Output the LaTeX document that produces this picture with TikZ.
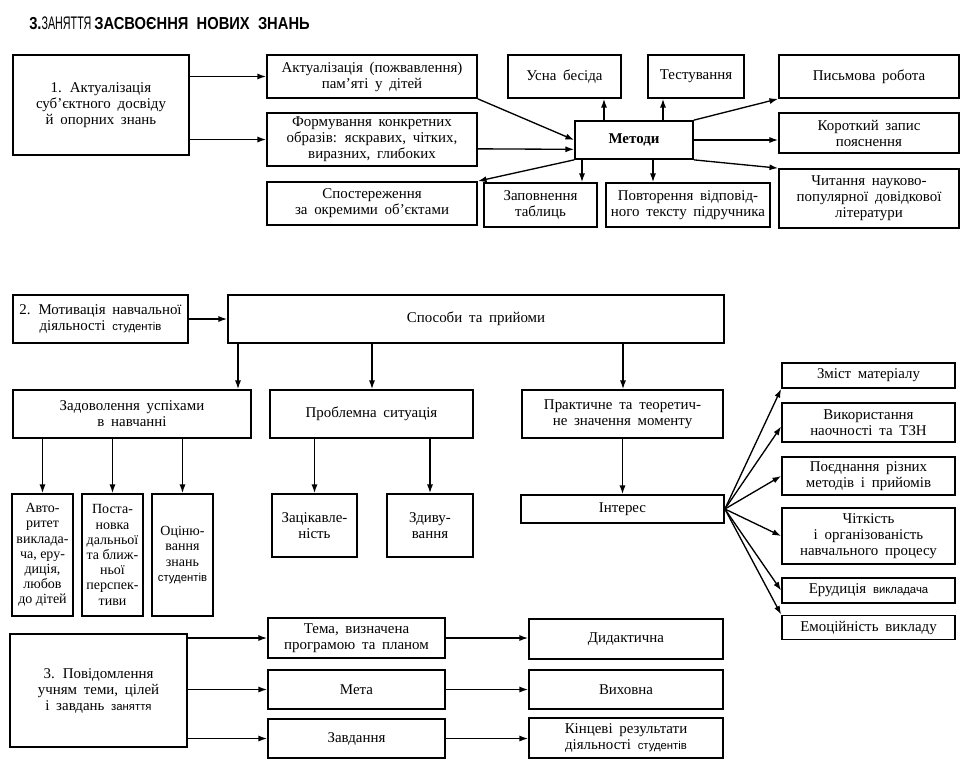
\documentclass[tikz,border=0pt]{standalone}
\usepackage{fontspec}
\setmainfont{Liberation Serif}
\setsansfont{Liberation Sans}
\usetikzlibrary{arrows.meta}
\newcommand{\sm}{\sffamily\fontsize{8.5}{10}\selectfont}
\newcommand{\bxfont}{\fontsize{11.2}{12}\selectfont\spaceskip=0.45em plus 0.1em\relax}
\newcommand{\narfont}{\fontsize{10.5}{11.4}\selectfont}
\begin{document}
\begin{tikzpicture}[x=0.75pt,y=-0.75pt,
  box/.style={draw,line width=1.3pt,align=center,inner sep=1pt,font=\bxfont},
  nar/.style={font=\narfont},
  sz/.style 2 args={minimum width=#1*0.75pt,minimum height=#2*0.75pt},
  arr/.style={-{Latex[length=6.5pt,width=4.5pt]},line width=1pt}]
\useasboundingbox[fill=white](0,0) rectangle (977,768);
\node[anchor=west,inner sep=0pt,font=\sffamily\bfseries\fontsize{13}{14}\selectfont] (title) at (29,23)
  {\scalebox{0.85}[1]{3.}{\mdseries\scalebox{0.62}[1.05]{ЗАНЯТТЯ}}\,\scalebox{0.85}[1]{ЗАСВОЄННЯ~~НОВИХ~~ЗНАНЬ}};
\node[box,sz={176}{100}] (s1) at (101,105) {1. Актуалізація\\суб’єктного досвіду\\й опорних знань};
\node[box,sz={210}{43}] (akt) at (372,76.5) {Актуалізація (пожвавлення)\\пам’яті у дітей};
\node[box,sz={210}{53}] (form) at (372,139.5) {Формування конкретних\\образів: яскравих, чітких,\\виразних, глибоких};
\node[box,sz={210}{43}] (spost) at (372,203.5) {Спостереження\\за окремими об’єктами};
\node[box,sz={113}{43}] (usna) at (564.5,76.5) {Усна бесіда};
\node[box,sz={96}{43}] (test) at (696,76.5) {Тестування};
\node[box,sz={180}{43}] (pysm) at (869,76.5) {Письмова робота};
\node[box,sz={118}{38},font=\bfseries\bxfont] (metody) at (634,140) {Методи};
\node[box,sz={180}{40}] (korot) at (869,133) {Короткий запис\\пояснення};
\node[box,sz={180}{59}] (chyt) at (869,198.5) {Читання науково-\\популярної довідкової\\літератури};
\node[box,sz={113}{44}] (zapov) at (540.5,205) {Заповнення\\таблиць};
\node[box,sz={164}{44}] (povt) at (688,205) {Повторення відповід-\\ного тексту підручника};
\draw[arr] (s1.east |- akt) -- (akt.west);
\draw[arr] (s1.east |- form) -- (form.west);
\draw[arr] (akt.south east) -- (metody.west);
\draw[arr] ([yshift=-7pt]form.east) -- ([yshift=-7pt]metody.west);
\draw[arr] (metody.south west) -- (spost.north east);
\draw[arr] (604,0 |- metody.north) -- (604,0 |- usna.south);
\draw[arr] (663,0 |- metody.north) -- (663,0 |- test.south);
\draw[arr] (metody.north east) -- (pysm.south west);
\draw[arr] (metody.east) -- (metody.east -| korot.west);
\draw[arr] (metody.south east) -- (chyt.north west);
\draw[arr] (582,0 |- metody.south) -- (582,0 |- zapov.north);
\draw[arr] (653,0 |- metody.south) -- (653,0 |- povt.north);
\node[box,sz={175}{48}] (s2) at (100.5,319) {2. Мотивація навчальної\\діяльності {\sm студентів}};
\node[box,sz={496}{48}] (sposoby) at (476,319) {Способи та прийоми};
\node[box,sz={238}{48}] (zadov) at (132,414) {Задоволення успіхами\\в навчанні};
\node[box,sz={203}{48}] (probl) at (371.5,414) {Проблемна ситуація};
\node[box,sz={201}{48}] (prakt) at (622.5,414) {Практичне та теоретич-\\не значення моменту};
\node[box,nar,sz={61}{122}] (avto) at (42.5,555) {Авто-\\ритет\\виклада-\\ча, еру-\\диція,\\любов\\до дітей};
\node[box,nar,sz={61}{122}] (post) at (112.5,555) {Поста-\\новка\\дальньої\\та ближ-\\ньої\\перспек-\\тиви};
\node[box,nar,sz={61}{122}] (otsin) at (182.5,555) {Оціню-\\вання\\знань\\{\sm студентів}};
\node[box,sz={85}{63}] (zatsik) at (314.5,525.5) {Зацікавле-\\ність};
\node[box,sz={86}{63}] (zdyv) at (430,525.5) {Здиву-\\вання};
\node[box,sz={203}{28}] (interes) at (622.5,509) {Інтерес};
\node[box,sz={173}{25}] (zmist) at (868.5,375.5) {Зміст матеріалу};
\node[box,sz={173}{39}] (vykor) at (868.5,422.5) {Використання\\наочності та ТЗН};
\node[box,sz={173}{38}] (poed) at (868.5,476) {Поєднання різних\\методів і прийомів};
\node[box,sz={173}{56}] (chitk) at (868.5,536) {Чіткість\\і організованість\\навчального процесу};
\node[box,sz={173}{25}] (erud) at (868.5,590.5) {Ерудиція {\sm викладача}};
\node[box,sz={173}{24}] (emoc) at (868.5,627.5) {Емоційність викладу};
\draw[arr] (s2.east) -- (sposoby.west);
\draw[arr] (238,0 |- sposoby.south) -- (238,0 |- zadov.north);
\draw[arr] (372,0 |- sposoby.south) -- (372,0 |- probl.north);
\draw[arr] (623,0 |- sposoby.south) -- (623,0 |- prakt.north);
\draw[arr] (prakt.south) -- (interes.north);
\draw[arr] (zadov.south -| avto) -- (avto.north);
\draw[arr] (zadov.south -| post) -- (post.north);
\draw[arr] (zadov.south -| otsin) -- (otsin.north);
\draw[arr] (probl.south -| zatsik) -- (zatsik.north);
\draw[arr] (probl.south -| zdyv) -- (zdyv.north);
\draw[arr] (interes.east) -- (zmist.south west);
\draw[arr] (interes.east) -- ([yshift=-3pt]vykor.west);
\draw[arr] (interes.east) -- (poed.west);
\draw[arr] (interes.east) -- (chitk.west);
\draw[arr] (interes.east) -- (erud.west);
\draw[arr] (interes.east) -- (emoc.north west);
\node[box,sz={177}{113}] (s3) at (98.5,690.5) {3. Повідомлення\\учням теми, цілей\\і завдань {\sm заняття}};
\node[box,sz={177}{40}] (tema) at (356.5,638) {Тема, визначена\\програмою та планом};
\node[box,sz={177}{39}] (meta) at (356.5,689.5) {Мета};
\node[box,sz={177}{39}] (zavd) at (356.5,738.5) {Завдання};
\node[box,sz={194}{40}] (dyd) at (626,639) {Дидактична};
\node[box,sz={194}{39}] (vyh) at (626,689.5) {Виховна};
\node[box,sz={194}{40}] (kinc) at (626,738) {Кінцеві результати\\діяльності {\sm студентів}};
\draw[arr] (s3.east |- tema) -- (tema.west);
\draw[arr] (s3.east |- meta) -- (meta.west);
\draw[arr] (s3.east |- zavd) -- (zavd.west);
\draw[arr] (tema.east) -- (tema.east -| dyd.west);
\draw[arr] (meta.east) -- (meta.east -| vyh.west);
\draw[arr] (zavd.east) -- (zavd.east -| kinc.west);
\end{tikzpicture}
\end{document}
